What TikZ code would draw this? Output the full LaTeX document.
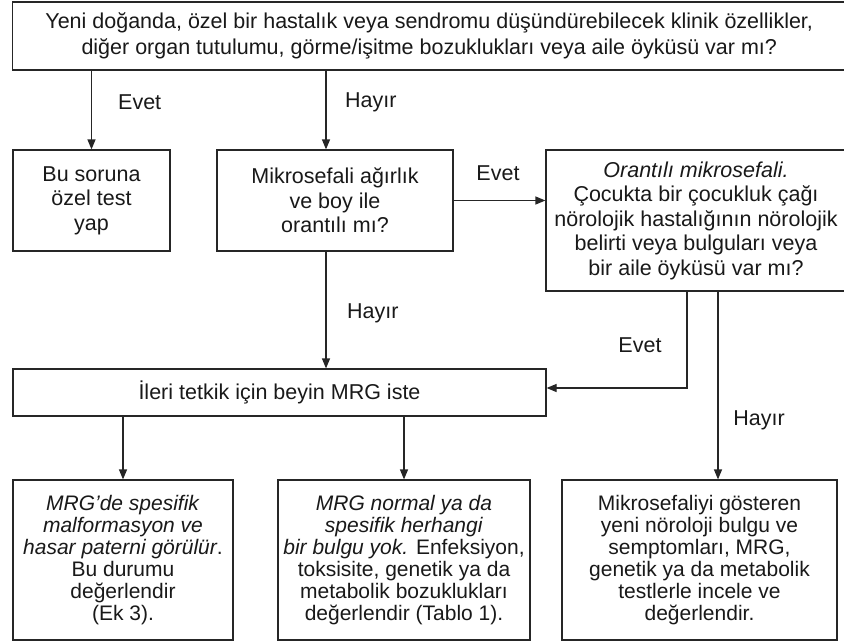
\documentclass[tikz,border=0pt]{standalone}
\usepackage{fontspec}
\setmainfont{Liberation Sans}
\usetikzlibrary{arrows.meta}
\tikzset{
  box/.style={draw=black!85, line width=1.2pt, inner sep=0pt, align=center, text=black!90},
  fa/.style={font=\fontsize{21.5}{26}\selectfont},
  fb/.style={font=\fontsize{21.5}{24.5}\selectfont},
  fc/.style={font=\fontsize{21}{22}\selectfont},
  arr/.style={draw=black!85, line width=1.2pt, -{Triangle[length=10pt,width=8pt]}},
  lbl/.style={font=\fontsize{21.5}{24}\selectfont, text=black!90, inner sep=0pt}
}
\begin{document}
\begin{tikzpicture}[x=1pt,y=-1pt]
\fill[white] (0,0) rectangle (844,643);
\useasboundingbox (0,0) rectangle (844,643);
% boxes
\node[box,fa,minimum width=833.5pt,minimum height=68pt] (top) at (429.25,36)
 {Yeni doğanda, özel bir hastalık veya sendromu düşündürebilecek klinik özellikler,\\
  diğer organ tutulumu, görme/işitme bozuklukları veya aile öyküsü var mı?};
\node[box,fb,minimum width=157pt,minimum height=101pt] (bu) at (91.5,200.5)
 {Bu soruna\\özel test\\yap};
\node[box,fb,minimum width=236pt,minimum height=101pt] (mik) at (335,200.5)
 {Mikrosefali ağırlık\\ve boy ile\\orantılı mı?};
\node[box,fb,minimum width=300pt,minimum height=141pt] (ora) at (696,220.5)
 {\textit{Orantılı mikrosefali.}\\Çocukta bir çocukluk çağı\\nörolojik hastalığının nörolojik\\belirti veya bulguları veya\\bir aile öyküsü var mı?};
\node[box,fb,minimum width=533pt,minimum height=47pt] (mrg) at (279.5,392.5)
 {İleri tetkik için beyin MRG iste};
\node[box,fc,minimum width=220pt,minimum height=160pt] (b1) at (123,560)
 {\textit{MRG’de spesifik}\\\textit{malformasyon ve}\\\textit{hasar paterni görülür}.\\Bu durumu\\değerlendir\\(Ek 3).};
\node[box,fc,minimum width=252pt,minimum height=160pt] (b2) at (404,560)
 {\textit{MRG normal ya da}\\\textit{spesifik herhangi}\\\textit{bir bulgu yok.} Enfeksiyon,\\toksisite, genetik ya da\\metabolik bozuklukları\\değerlendir (Tablo 1).};
\node[box,fc,minimum width=275pt,minimum height=160pt] (b3) at (699.5,560)
 {Mikrosefaliyi gösteren\\yeni nöroloji bulgu ve\\semptomları, MRG,\\genetik ya da metabolik\\testlerle incele ve\\değerlendir.};
% helper coordinates
\coordinate (xh) at (326,0);
\coordinate (xe) at (687,388);
\coordinate (xr) at (718,0);
% connectors
\draw[arr] (top.south -| bu.north) -- (bu.north);
\draw[arr] (top.south -| xh) -- (mik.north -| xh);
\draw[arr] (mik.east) -- (mik.east -| ora.west);
\draw[arr] (mik.south -| xh) -- (mrg.north -| xh);
\draw[arr] (ora.south -| xe) -- (xe) -- (xe -| mrg.east);
\draw[arr] (ora.south -| xr) -- (b3.north -| xr);
\draw[arr] (mrg.south -| b1.north) -- (b1.north);
\draw[arr] (mrg.south -| b2.north) -- (b2.north);
% labels
\node[lbl,anchor=west] (l1) at (118,102) {Evet};
\node[lbl,anchor=west] (l2) at (345,102) {Hayır};
\node[lbl] (l3) at (498,173) {Evet};
\node[lbl,anchor=west] (l4) at (347,313) {Hayır};
\node[lbl] (l5) at (640,345) {Evet};
\node[lbl] (l6) at (759,420) {Hayır};
\end{tikzpicture}
\end{document}
